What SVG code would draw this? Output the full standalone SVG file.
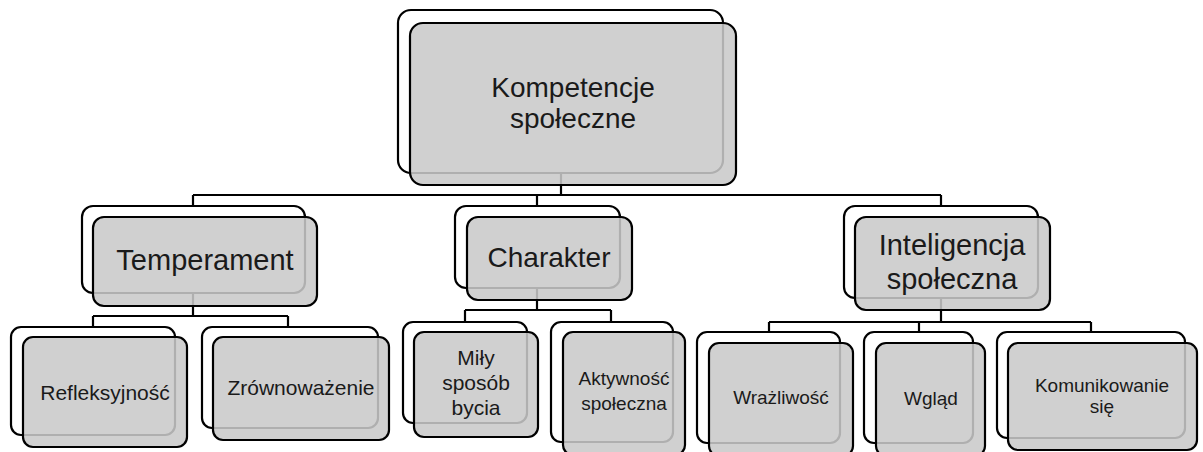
<svg xmlns="http://www.w3.org/2000/svg" width="1203" height="452" viewBox="0 0 1203 452">
<style>
.bk{fill:#ffffff;stroke:#000;stroke-width:2.2}
.fr{fill:#c9c9c9;fill-opacity:0.87;stroke:#000;stroke-width:2.2}
.cn{fill:none;stroke:#000;stroke-width:2.2}
text{font-family:"Liberation Sans",Arial,sans-serif;fill:#1a1a1a;text-anchor:middle}
.l{font-size:28px}
.s{font-size:21px}
.xs{font-size:19px}
</style>
<rect width="1203" height="452" fill="#fff"/>
<g id="connectors">
<path class="cn" d="M561,173V195M193,195H941M193,195V206M537,195V206M941,195V206"/>
<path class="cn" d="M193,293V316M93,316H288M93,316V327M288,316V327"/>
<path class="cn" d="M537,288V310M465,310H611M465,310V322M611,310V322"/>
<path class="cn" d="M941,298V322M769,322H1091M769,322V332M919,322V332M1091,322V332"/>
</g>
<g id="root">
<rect class="bk" x="398" y="10" width="325" height="163" rx="13"/>
<rect class="fr" x="410" y="23" width="326" height="162" rx="13"/>
<text class="l" x="573" y="97">Kompetencje</text>
<text class="l" x="573" y="128">społeczne</text>
</g>
<g id="temperament">
<rect class="bk" x="82" y="206" width="223" height="87" rx="11"/>
<rect class="fr" x="93" y="217" width="224" height="89" rx="11"/>
<text class="l" x="205" y="270" style="font-size:29px">Temperament</text>
</g>
<g id="refleksyjnosc">
<rect class="bk" x="11" y="327" width="164" height="108" rx="10"/>
<rect class="fr" x="23" y="337" width="164" height="110" rx="10"/>
<text class="s" x="105" y="400">Refleksyjność</text>
</g>
<g id="zrownowazenie">
<rect class="bk" x="202" y="327" width="176" height="101" rx="10"/>
<rect class="fr" x="213" y="337" width="176" height="103" rx="10"/>
<text class="s" x="301" y="395">Zrównoważenie</text>
</g>
<g id="charakter">
<rect class="bk" x="455" y="206" width="165" height="82" rx="11"/>
<rect class="fr" x="467" y="217" width="165" height="83" rx="11"/>
<text class="l" x="549" y="267">Charakter</text>
</g>
<g id="mily">
<rect class="bk" x="403" y="322" width="124" height="101" rx="10"/>
<rect class="fr" x="414" y="332" width="124" height="105" rx="10"/>
<text class="s" x="476" y="365">Miły</text>
<text class="s" x="476" y="390">sposób</text>
<text class="s" x="476" y="415">bycia</text>
</g>
<g id="aktywnosc">
<rect class="bk" x="551" y="322" width="122" height="120" rx="10"/>
<rect class="fr" x="563" y="332" width="122" height="123" rx="10"/>
<text class="xs" x="624" y="385">Aktywność</text>
<text class="xs" x="624" y="410">społeczna</text>
</g>
<g id="inteligencja">
<rect class="bk" x="844" y="206" width="194" height="92" rx="11"/>
<rect class="fr" x="855" y="217" width="195" height="93" rx="11"/>
<text class="l" x="952" y="255" style="font-size:29px">Inteligencja</text>
<text class="l" x="952" y="289" style="font-size:29px">społeczna</text>
</g>
<g id="wrazliwosc">
<rect class="bk" x="697" y="332" width="143" height="111" rx="10"/>
<rect class="fr" x="709" y="343" width="144" height="113" rx="10"/>
<text class="xs" x="781" y="404">Wrażliwość</text>
</g>
<g id="wglad">
<rect class="bk" x="864" y="332" width="109" height="111" rx="10"/>
<rect class="fr" x="876" y="343" width="109" height="113" rx="10"/>
<text class="xs" x="931" y="405">Wgląd</text>
</g>
<g id="komunikowanie">
<rect class="bk" x="997" y="332" width="188" height="106" rx="10"/>
<rect class="fr" x="1008" y="343" width="189" height="107" rx="10"/>
<text class="xs" x="1102" y="392">Komunikowanie</text>
<text class="xs" x="1102" y="413">się</text>
</g>
</svg>
